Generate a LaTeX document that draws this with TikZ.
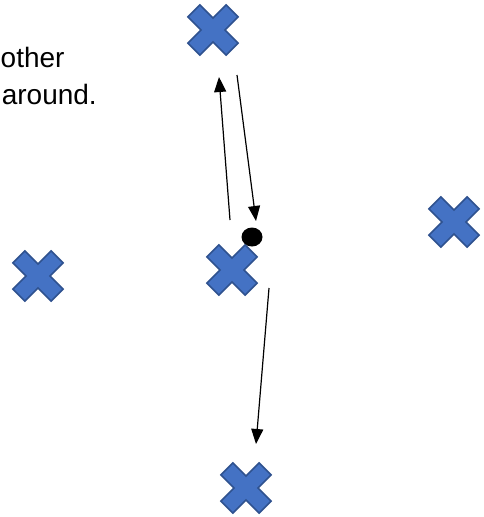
\documentclass[tikz,border=0pt]{standalone}
\usepackage{fontspec}
\setmainfont{Liberation Sans}
\usetikzlibrary{arrows.meta,shapes.geometric}
\definecolor{crossfill}{HTML}{4472C4}
\definecolor{crossedge}{HTML}{2F528F}
\tikzset{
  crossshape/.style={fill=crossfill, draw=crossedge, line width=1.6pt, line join=miter},
  cross/.pic={
    \path[crossshape] (0:12) -- (27.5:28.3) -- (62.5:28.3) -- (90:12) -- (117.5:28.3) -- (152.5:28.3)
      -- (180:12) -- (207.5:28.3) -- (242.5:28.3) -- (270:12) -- (297.5:28.3) -- (332.5:28.3) -- cycle;
  },
  move/.style={line width=1.2pt, -{Triangle[length=15pt,width=12pt]}},
  label/.style={inner sep=0pt, font=\fontsize{28}{34}\selectfont},
}
\begin{document}
\begin{tikzpicture}[x=1pt,y=-1pt]
  \useasboundingbox (0,0) rectangle (484,517);
  \clip (0,0) rectangle (484,517);
  % text fragment at the upper left
  \node[label, anchor=base west] (t1) at (0.5,67) {other};
  \node[label, anchor=base east] (t2) at (97,104) {around.};
  % crosses
  \pic at (213,30) {cross};
  \pic at (38,276) {cross};
  \pic at (232,270) {cross};
  \pic at (454,222) {cross};
  \pic at (246,488) {cross};
  % the moving point
  \node[fill=black, ellipse, minimum width=21pt, minimum height=19pt, inner sep=0pt] (dot) at (252,237) {};
  % arrow end points
  \coordinate (u0) at (230,220);
  \coordinate (u1) at (219,77);
  \coordinate (d0) at (237,75);
  \coordinate (d1) at (256,221);
  \coordinate (l0) at (269,288);
  \coordinate (l1) at (256,444);
  \draw[move] (u0) -- (u1);
  \draw[move] (d0) -- (d1);
  \draw[move] (l0) -- (l1);
\end{tikzpicture}
\end{document}
